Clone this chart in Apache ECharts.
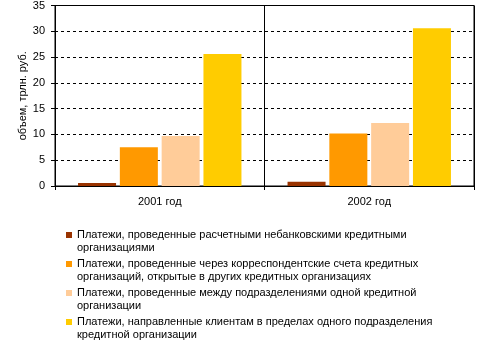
<!DOCTYPE html>
<html>
<head>
<meta charset="utf-8">
<script src="https://cdn.jsdelivr.net/npm/echarts@6/dist/echarts.min.js"></script>
<style>
  html, body { margin: 0; padding: 0; background: #fff; }
  #chart { width: 502px; height: 341px; }
</style>
</head>
<body>
<div id="chart"></div>
<script>
// Years on the category axis
const years = ['2001 год', '2002 год'];

// Payment channel names (legend rows, wrapped as shown)
const seriesNames = [
  'Платежи, проведенные расчетными небанковскими кредитными\nорганизациями',
  'Платежи, проведенные через корреспондентские счета кредитных\nорганизаций, открытые в других кредитных организациях',
  'Платежи, проведенные между подразделениями одной кредитной\nорганизации',
  'Платежи, направленные клиентам в пределах одного подразделения\nкредитной организации'
];

// Volumes, trillion roubles
const nonBankValues = [0.6, 0.8];
const corrAccountValues = [7.5, 10.2];
const interBranchValues = [9.7, 12.2];
const withinBranchValues = [25.6, 30.6];

const seriesColors = ['#993300', '#FF9900', '#FFCC99', '#FFCC00'];
const seriesValues = [nonBankValues, corrAccountValues, interBranchValues, withinBranchValues];

const FONT = '"Liberation Sans", Arial, sans-serif';

const chart = echarts.init(document.getElementById('chart'), null, { renderer: 'canvas' });

// Legend drawn as graphic rows so the marker sits beside the first text line
const legendGraphics = [];
const legendTop = 230;
const rowStep = 29;
seriesNames.forEach((name, i) => {
  const y = legendTop + i * rowStep;
  legendGraphics.push({
    type: 'rect',
    left: 66, top: y + 2,
    shape: { width: 6, height: 6 },
    style: { fill: seriesColors[i] }
  });
  legendGraphics.push({
    type: 'text',
    left: 77, top: y - 1,
    style: {
      text: name,
      font: '11px ' + FONT,
      fill: '#000',
      lineHeight: 12.7
    }
  });
});

chart.setOption({
  animation: false,
  backgroundColor: '#fff',
  grid: {
    left: 55, top: 5, right: 28, bottom: 155,
    show: true, borderColor: '#000', borderWidth: 1, backgroundColor: 'transparent'
  },
  xAxis: {
    type: 'category',
    data: years,
    boundaryGap: true,
    axisLine: { lineStyle: { color: '#000', width: 1 } },
    axisTick: { show: true, length: 4, lineStyle: { color: '#000' } },
    axisLabel: { color: '#000', fontFamily: FONT, fontSize: 11, margin: 10 },
    splitLine: { show: true, lineStyle: { color: '#000', width: 1, type: 'solid' } }
  },
  yAxis: {
    type: 'value',
    min: 0, max: 35, interval: 5,
    name: 'объем, трлн. руб.',
    nameLocation: 'middle',
    nameGap: 27,
    nameMoveOverlap: false,
    nameTextStyle: { color: '#000', fontFamily: FONT, fontSize: 11 },
    axisLine: { show: true, lineStyle: { color: '#000', width: 1 } },
    axisTick: { show: true, length: 4, lineStyle: { color: '#000' } },
    axisLabel: { color: '#000', fontFamily: FONT, fontSize: 11, margin: 10 },
    splitLine: { show: true, lineStyle: { color: '#000', width: 1, type: [3, 3] } }
  },
  series: seriesNames.map((name, i) => ({
    type: 'bar',
    name: name,
    data: seriesValues[i],
    itemStyle: { color: seriesColors[i] },
    barGap: '10%',
    barCategoryGap: '22%'
  })),
  graphic: legendGraphics
});
</script>
</body>
</html>
